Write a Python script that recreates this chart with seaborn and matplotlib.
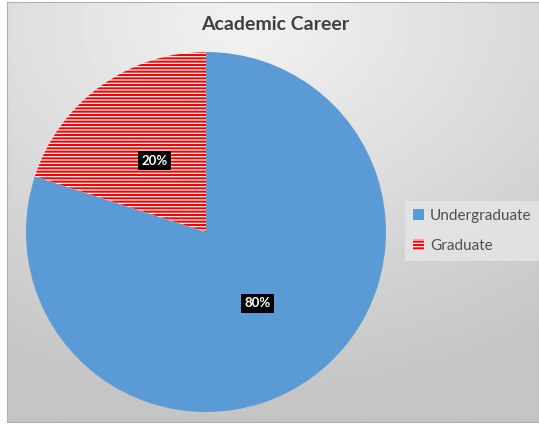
import seaborn as sns
import matplotlib.pyplot as plt
import numpy as np
from matplotlib.patches import Patch

categories = ['Undergraduate', 'Graduate']
shares = [80, 20]
title = 'Academic Career'

sns.set_theme(style='white')
plt.rcParams['font.family'] = ['Lato', 'DejaVu Sans']
plt.rcParams['hatch.linewidth'] = 1.5

fig = plt.figure(figsize=(5.39, 4.25), dpi=100)
fig.patch.set_facecolor('white')

# gradient background of the chart area
bg = fig.add_axes([7 / 539, 3 / 425, 532 / 539, 420 / 425], zorder=0)
yy, xx = np.mgrid[0:1:200j, 0:1:250j]
dist = np.sqrt((xx - 0.45) ** 2 + ((yy - 0.05) * 1.1) ** 2)
shade = 0.95 - 0.18 * np.clip(dist, 0, 1)
bg.imshow(shade, cmap='gray', vmin=0, vmax=1, aspect='auto', extent=[0, 1, 0, 1])
bg.set_xticks([])
bg.set_yticks([])
for s in bg.spines.values():
    s.set_color('#b0b0b0')
    s.set_linewidth(0.8)

# pie axes
ax = fig.add_axes([26 / 539, 13 / 425, 360 / 539, 360 / 425], zorder=1)
ax.patch.set_alpha(0)
blue = sns.color_palette(['#5B9BD5'])[0]
wedges, texts, autotexts = ax.pie(
    shares, labels=None, startangle=162, counterclock=True,
    colors=[blue, 'white'], autopct='%1.0f%%', pctdistance=0.49,
    wedgeprops=dict(linewidth=0), radius=1,
)
wedges[1].set_hatch('-----')
wedges[1].set_edgecolor('#ff0000')
wedges[1].set_linewidth(0)
for t in autotexts:
    t.set_color('white')
    t.set_fontsize(9.5)
    t.set_fontweight('bold')
    t.set_bbox(dict(facecolor='black', edgecolor='none', pad=2.5))
ax.set_xlim(-1, 1)
ax.set_ylim(-1, 1)
ax.set_aspect('equal')
ax.axis('off')

fig.text(275 / 539, 1 - 25 / 425, title, ha='center', va='center',
         fontsize=14, fontweight='bold', color='#404040')

handles = [Patch(facecolor=blue, edgecolor='none'),
           Patch(facecolor='white', edgecolor='#ff0000', hatch='-----', linewidth=0)]
leg = fig.legend(handles, categories, loc='center left',
                 bbox_to_anchor=(405 / 539, 1 - 231 / 425), frameon=True,
                 fontsize=11, handlelength=0.7, handleheight=0.7,
                 handletextpad=0.4, labelspacing=1.05, borderpad=0.55,
                 borderaxespad=0, labelcolor='#505050')
leg.get_frame().set_facecolor('#e6e6e6')
leg.get_frame().set_edgecolor('none')
leg.get_frame().set_boxstyle('square', pad=0)

fig.savefig('out.png', dpi=100)
